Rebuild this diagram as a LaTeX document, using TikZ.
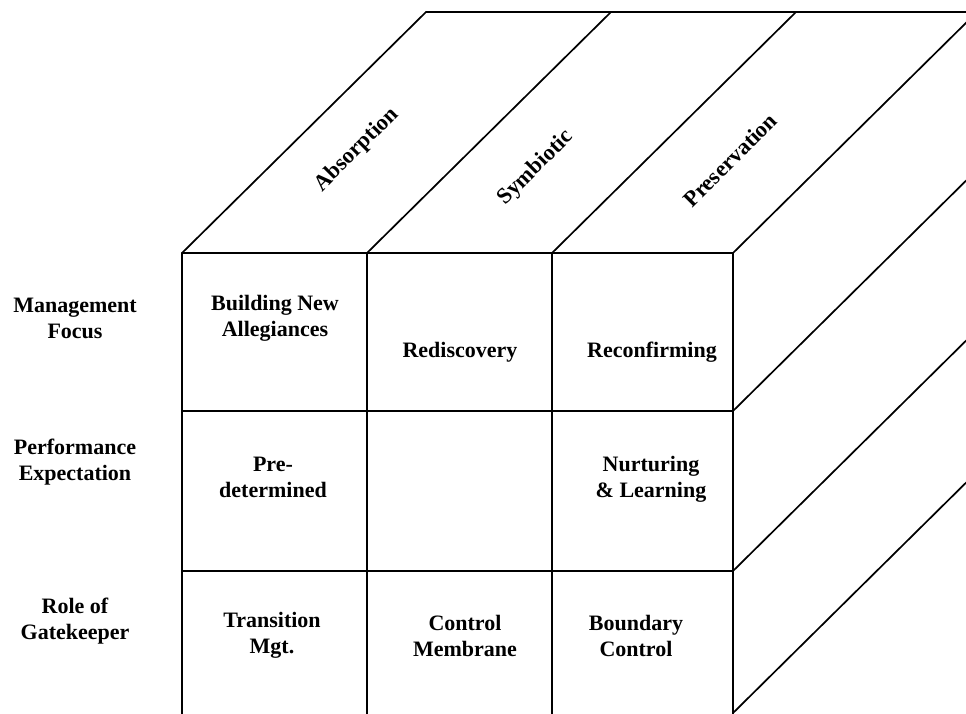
\documentclass[tikz,border=0pt]{standalone}
\usepackage{fontspec}
\setmainfont{Liberation Serif}
\usetikzlibrary{calc}
\begin{document}
\begin{tikzpicture}[x=1pt,y=-1pt,
  edge/.style={line width=1.7pt, line cap=round, line join=round},
  lbl/.style={font=\fontsize{22}{26}\selectfont\bfseries, align=center, inner sep=0pt},
  toplbl/.style={font=\fontsize{22.5}{26}\selectfont\bfseries, inner sep=0pt, rotate=45}]
\useasboundingbox (0,0) rectangle (966,713);
\clip (0,0) rectangle (966,713);
\fill[white] (0,0) rectangle (966,713);

% front face corners
\coordinate (c0) at (182,253);
\coordinate (c1) at (367,253);
\coordinate (c2) at (552,253);
\coordinate (c3) at (733,253);
\coordinate (r1) at (733,411);
\coordinate (r2) at (733,571);
\coordinate (r3) at (733,713);

% front face grid
\foreach \x in {182,367,552,733}
  \draw[edge] (\x,253) -- (\x,730);
\foreach \y in {253,411,571}
  \draw[edge] (182,\y) -- (733,\y);

% top face
\foreach \c in {c0,c1,c2,c3}
  \draw[edge] (\c) -- ++(244,-241);
\draw[edge] ($(c0)+(244,-241)$) -- (1000,12);

% side face
\foreach \c in {r1,r2,r3}
  \draw[edge] (\c) -- ++(260,-257);

% row headings
\node[lbl] (mgmt) at (75,318) {Management\\Focus};
\node[lbl] (perf) at (75,462) {Performance\\Expectation};
\node[lbl] (role) at (75,621) {Role of\\Gatekeeper};

% cell texts
\node[lbl] (build)  at (275,318) {Building New\\Allegiances};
\node[lbl] (redisc) at (460,352) {Rediscovery};
\node[lbl] (reconf) at (652,352) {Reconfirming};
\node[lbl] (pre)    at (273,477) {Pre-\\determined};
\node[lbl] (nurt)   at (651,479) {Nurturing\\\& Learning};
\node[lbl] (trans)  at (272,635) {Transition\\Mgt.};
\node[lbl] (memb)   at (465,636) {Control\\Membrane};
\node[lbl] (bound)  at (636,636) {Boundary\\Control};

% column headings on the top face
\node[toplbl] (absorp) at (357,150) {Absorption};
\node[toplbl] (symb)   at (536,168) {Symbiotic};
\node[toplbl] (pres)   at (730,160) {Preservation};
\end{tikzpicture}
\end{document}
